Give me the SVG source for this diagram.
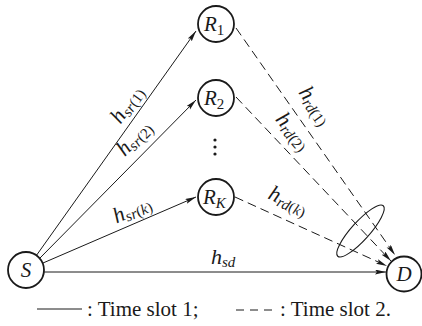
<svg xmlns="http://www.w3.org/2000/svg" width="422" height="326" viewBox="0 0 422 326">
<defs>
<marker id="arr" markerUnits="userSpaceOnUse" markerWidth="12" markerHeight="6" refX="11" refY="2.5" orient="auto">
<path d="M0,0 L11,2.5 L0,5 L2,2.5 z" fill="#1a1a1a"/>
</marker>
<style>
.node{fill:#fff;stroke:#1a1a1a;stroke-width:1.8}
.nl{font-family:"Liberation Serif","Times New Roman",serif;font-style:italic;font-size:21px;fill:#1a1a1a}
.sub{font-size:15px}
.up{font-style:normal}
.solid{stroke:#1a1a1a;stroke-width:1;fill:none}
.dash{stroke:#1a1a1a;stroke-width:1;fill:none;stroke-dasharray:9 5}
.lab{font-family:"Liberation Serif","Times New Roman",serif;font-style:italic;font-size:22px;fill:#1a1a1a}
.leg{font-family:"Liberation Serif","Times New Roman",serif;font-size:21px;fill:#1a1a1a}
</style>
</defs>
<rect width="422" height="326" fill="#fff"/>
<g id="connectors">
<line class="solid" x1="36" y1="256" x2="196" y2="31" marker-end="url(#arr)"/>
<line class="solid" x1="40" y1="258" x2="196" y2="100" marker-end="url(#arr)"/>
<line class="solid" x1="43" y1="263" x2="196" y2="197" marker-end="url(#arr)"/>
<line class="solid" x1="44" y1="272" x2="386" y2="272" stroke-width="1.4" marker-end="url(#arr)"/>
<line class="dash" x1="236" y1="28" x2="395" y2="255" marker-end="url(#arr)"/>
<line class="dash" x1="236" y1="97" x2="391" y2="261" marker-end="url(#arr)"/>
<line class="dash" x1="235" y1="197" x2="387" y2="266" marker-end="url(#arr)"/>
<ellipse cx="360.5" cy="231" rx="34" ry="9" transform="rotate(-48 360.5 231)" fill="none" stroke="#1a1a1a" stroke-width="1.1"/>
<text class="lab" transform="translate(129 106) rotate(-54.6)" text-anchor="middle" y="4">h<tspan class="sub" dy="3">sr</tspan><tspan class="sub up">(1)</tspan></text>
<text class="lab" transform="translate(136 140) rotate(-45.4)" text-anchor="middle" y="4">h<tspan class="sub" dy="3">sr</tspan><tspan class="sub up">(2)</tspan></text>
<text class="lab" transform="translate(133 212) rotate(-23.3)" text-anchor="middle" y="4">h<tspan class="sub" dy="3">sr</tspan><tspan class="sub up">(</tspan><tspan class="sub">k</tspan><tspan class="sub up">)</tspan></text>
<text class="lab" x="211" y="264">h<tspan class="sub" dy="3">sd</tspan></text>
<text class="lab" transform="translate(313 107) rotate(55)" text-anchor="middle" y="4">h<tspan class="sub" dy="3">rd</tspan><tspan class="sub up">(1)</tspan></text>
<text class="lab" transform="translate(291 133) rotate(50)" text-anchor="middle" y="4">h<tspan class="sub" dy="3">rd</tspan><tspan class="sub up">(2)</tspan></text>
<text class="lab" transform="translate(287 203) rotate(24.4)" text-anchor="middle" y="4">h<tspan class="sub" dy="3">rd</tspan><tspan class="sub up">(</tspan><tspan class="sub">k</tspan><tspan class="sub up">)</tspan></text>
</g>
<g id="node-R1"><circle class="node" cx="216" cy="24" r="18"/><text class="nl" x="204" y="31">R<tspan class="sub up" dy="4">1</tspan></text></g>
<g id="node-R2"><circle class="node" cx="216" cy="98" r="18"/><text class="nl" x="204" y="105">R<tspan class="sub up" dy="4">2</tspan></text></g>
<g id="dots" fill="#1a1a1a"><circle cx="215" cy="140" r="1.6"/><circle cx="215" cy="147" r="1.6"/><circle cx="215" cy="154" r="1.6"/></g>
<g id="node-RK"><circle class="node" cx="216" cy="197" r="18"/><text class="nl" x="203" y="204">R<tspan class="sub" dy="4">K</tspan></text></g>
<g id="node-S"><circle class="node" cx="26" cy="270" r="18"/><text class="nl" x="26" y="277" text-anchor="middle">S</text></g>
<g id="node-D"><circle class="node" cx="404" cy="274" r="17.5"/><text class="nl" x="404" y="281" text-anchor="middle">D</text></g>
<g id="legend">
<line x1="37" y1="309" x2="82" y2="309" stroke="#1a1a1a" stroke-width="1"/>
<text class="leg" x="87" y="316">: Time slot 1;</text>
<line x1="236" y1="310" x2="272" y2="310" stroke="#1a1a1a" stroke-width="1" stroke-dasharray="8 6"/>
<text class="leg" x="280" y="316">: Time slot 2.</text>
</g>
</svg>
